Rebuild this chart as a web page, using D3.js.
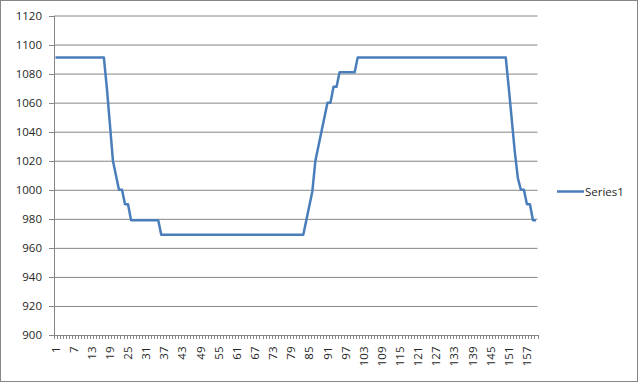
<!DOCTYPE html>
<html>
<head>
<meta charset="utf-8">
<script src="https://cdn.jsdelivr.net/npm/d3@7"></script>
<style>
body{margin:0;background:#fff;}
svg{display:block;}
.t_label{font-family:"Open Sans",sans-serif;font-size:11.5px;fill:#262626;}
.axis path,.axis line{stroke:#868686;shape-rendering:crispEdges;}
.grid line{stroke:#868686;}
.grid path{display:none;}
</style>
</head>
<body>
<svg width="640" height="384"></svg>
<script>
/* ----------------------------------------------------------
data
---------------------------------------------------------- */
var categories = [
	1,2,3,4,5,6,7,8,9,10,11,12,13,14,15,16,17,18,19,20,
	21,22,23,24,25,26,27,28,29,30,31,32,33,34,35,36,37,38,39,40,
	41,42,43,44,45,46,47,48,49,50,51,52,53,54,55,56,57,58,59,60,
	61,62,63,64,65,66,67,68,69,70,71,72,73,74,75,76,77,78,79,80,
	81,82,83,84,85,86,87,88,89,90,91,92,93,94,95,96,97,98,99,100,
	101,102,103,104,105,106,107,108,109,110,111,112,113,114,115,116,117,118,119,120,
	121,122,123,124,125,126,127,128,129,130,131,132,133,134,135,136,137,138,139,140,
	141,142,143,144,145,146,147,148,149,150,151,152,153,154,155,156,157,158,159,160
];
var series1 = [
	1091,1091,1091,1091,1091,1091,1091,1091,1091,1091,1091,1091,1091,1091,1091,1091,1091,1070,1045,1020,
	1010,1000,1000,990,990,979,979,979,979,979,979,979,979,979,979,969,969,969,969,969,
	969,969,969,969,969,969,969,969,969,969,969,969,969,969,969,969,969,969,969,969,
	969,969,969,969,969,969,969,969,969,969,969,969,969,969,969,969,969,969,969,969,
	969,969,969,979,989,999,1020,1030,1040,1050,1060,1060,1071,1071,1081,1081,1081,1081,1081,1081,
	1091,1091,1091,1091,1091,1091,1091,1091,1091,1091,1091,1091,1091,1091,1091,1091,1091,1091,1091,1091,
	1091,1091,1091,1091,1091,1091,1091,1091,1091,1091,1091,1091,1091,1091,1091,1091,1091,1091,1091,1091,
	1091,1091,1091,1091,1091,1091,1091,1091,1091,1091,1070,1048,1026,1008,1000,1000,990,990,979,979
];
var seriesName = "Series1";
var yTicks = [900,920,940,960,980,1000,1020,1040,1060,1080,1100,1120];
var xLabels = [1,7,13,19,25,31,37,43,49,55,61,67,73,79,85,91,97,103,109,115,121,127,133,139,145,151,157];

/* ----------------------------------------------------------
setting
---------------------------------------------------------- */
var plotL = 54, plotR = 537.5, plotT = 15.5, plotB = 335;
var lineColor = "#4a7ebb";
var svg = d3.select("svg");

//chart border
svg.append("rect").attr("x",0.5).attr("y",0.5).attr("width",637).attr("height",381)
	.style("fill","#fff").style("stroke","#868686");

//scale
var x = d3.scaleBand().domain(categories).range([plotL, plotR]).padding(0);
var xTick = d3.scaleLinear().domain([0, categories.length]).range([plotL, plotR]);
var y = d3.scaleLinear().domain([900, 1120]).range([plotB, plotT]);

//grid
svg.append("g").attr("class","grid").attr("transform","translate("+plotL+",0)")
	.call(d3.axisLeft(y).tickValues(yTicks).tickSize(-(plotR-plotL)).tickFormat(""));

//y axis
var gy = svg.append("g").attr("class","axis").attr("transform","translate("+plotL+",0)")
	.call(d3.axisLeft(y).tickValues(yTicks).tickSize(5).tickSizeOuter(0).tickPadding(7).tickFormat(d3.format("d")));
gy.selectAll("text").attr("class","t_label").attr("fill",null);

//x axis (small ticks between categories)
svg.append("g").attr("class","axis").attr("transform","translate(0,"+plotB+")")
	.call(d3.axisBottom(xTick).tickValues(d3.range(0, categories.length+1)).tickSize(4).tickSizeOuter(0).tickFormat(""));

var gx = svg.append("g").attr("transform","translate(0,"+plotB+")")
	.call(d3.axisBottom(x).tickValues(xLabels).tickSize(0).tickPadding(0));
gx.select(".domain").remove();
gx.selectAll("text")
	.attr("class","t_label").attr("fill",null)
	.attr("transform","translate(0,11.5) rotate(-90)")
	.attr("x",0).attr("y",0).attr("dy","0.35em")
	.style("text-anchor","end");

//line
var line = d3.line()
	.x(function(d,i){ return x(categories[i]) + x.bandwidth()/2; })
	.y(function(d){ return y(d); });

svg.append("path").datum(series1)
	.attr("d", line)
	.style("fill","none").style("stroke",lineColor).style("stroke-width",2.5)
	.style("stroke-linejoin","round");

//legend
var gLegend = svg.append("g").attr("transform","translate(557,191.5)");
gLegend.append("line").attr("x1",0).attr("x2",27).attr("y1",0).attr("y2",0)
	.style("stroke",lineColor).style("stroke-width",2.5);
gLegend.append("text").attr("class","t_label").attr("x",28).attr("y",0).attr("dy","0.35em")
	.text(seriesName);
</script>
</body>
</html>
